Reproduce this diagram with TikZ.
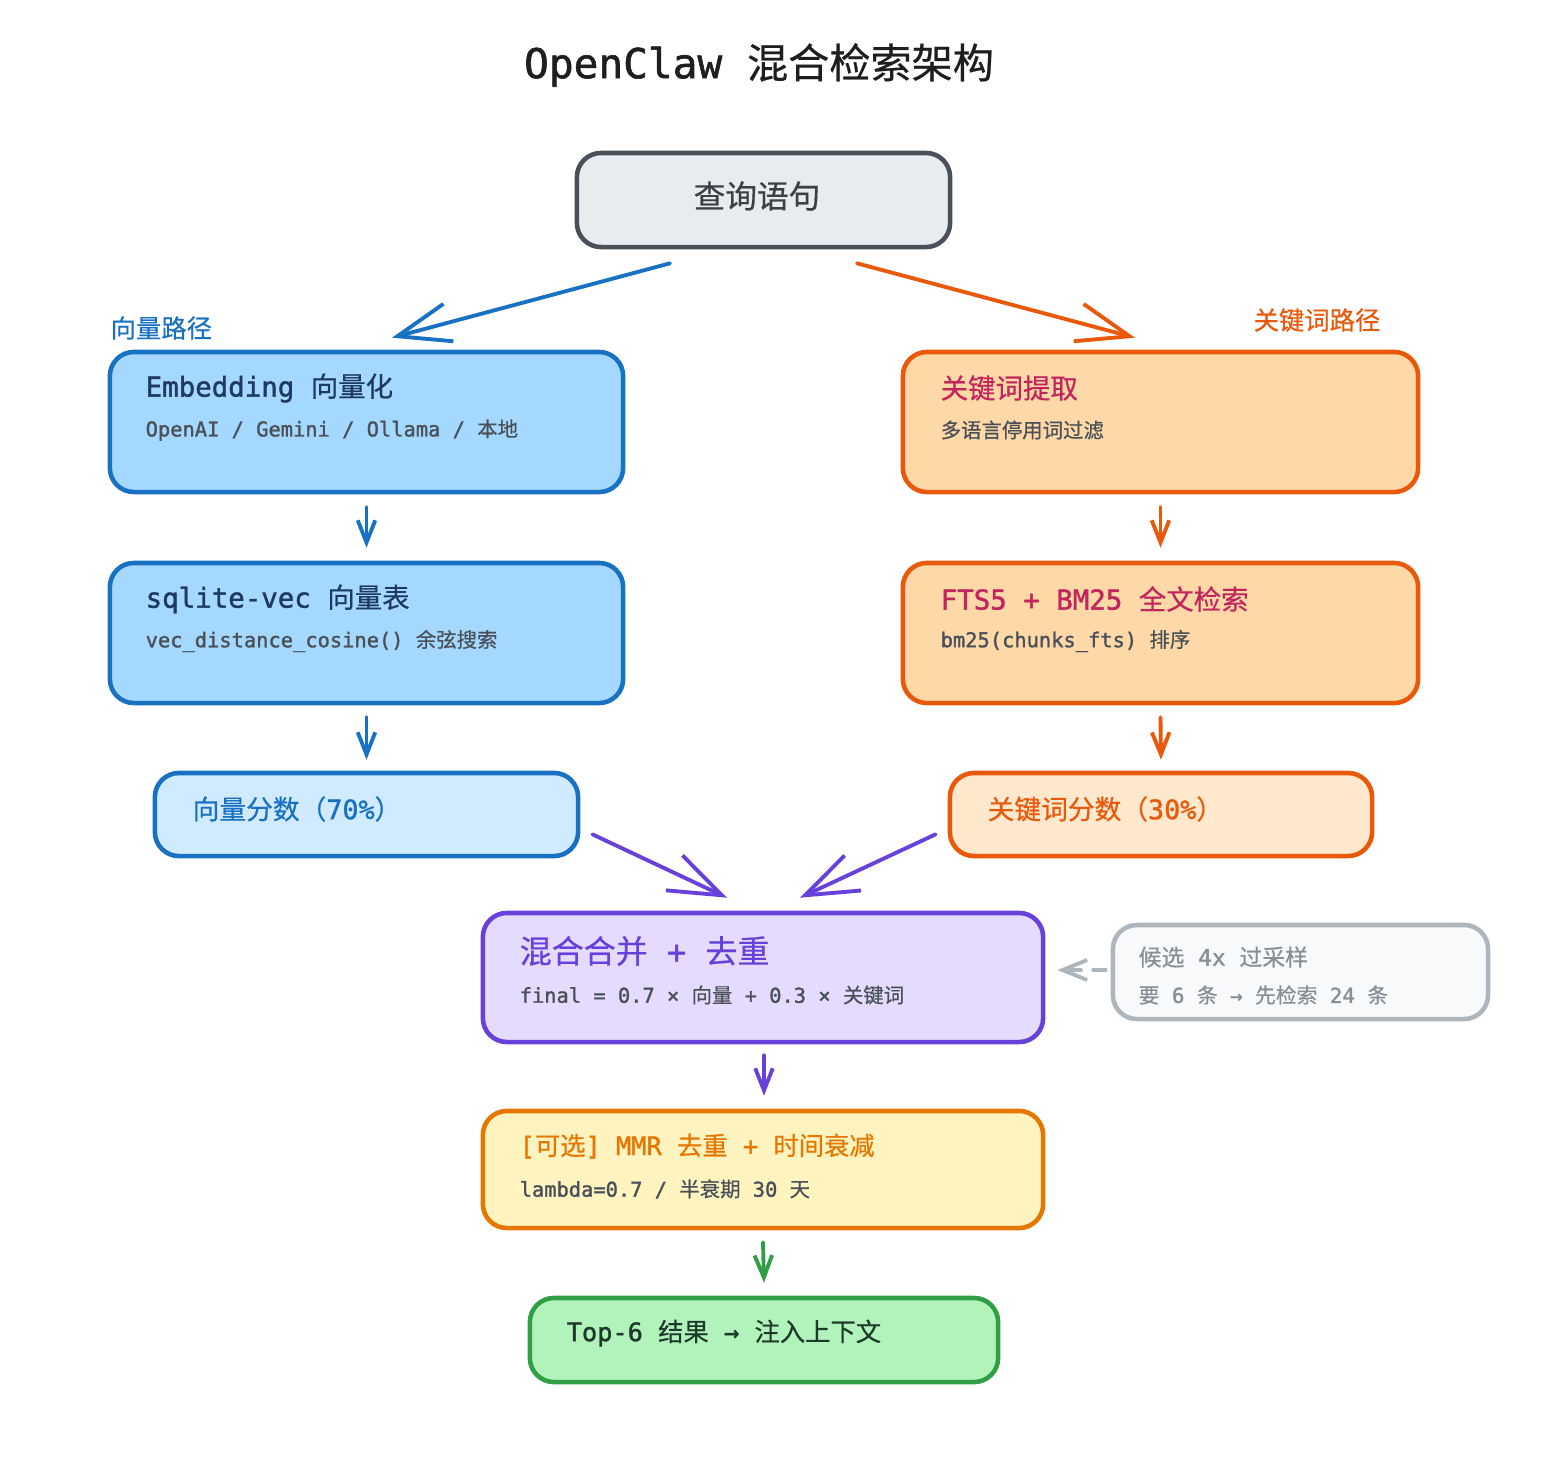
\documentclass[tikz,border=0pt]{standalone}
\usepackage{fontspec}
\setmainfont{DejaVu Sans Mono}[FakeBold=1.4]
\newfontfamily\cjk{Noto Sans CJK SC}[FakeBold=0.5]
\usetikzlibrary{arrows.meta}
\usetikzlibrary{calc}

\definecolor{inkdark}{HTML}{1E1E1E}
\definecolor{subgray}{HTML}{495057}
\definecolor{qline}{HTML}{495057}
\definecolor{qfill}{HTML}{E9ECEF}
\definecolor{vecline}{HTML}{1971C2}
\definecolor{vecfill}{HTML}{A5D8FF}
\definecolor{vecpale}{HTML}{D0EBFF}
\definecolor{vecink}{HTML}{1E3A5F}
\definecolor{kwline}{HTML}{E8590C}
\definecolor{kwfill}{HTML}{FFD8A8}
\definecolor{kwpale}{HTML}{FFE8CC}
\definecolor{kwink}{HTML}{C2255C}
\definecolor{mixline}{HTML}{6741D9}
\definecolor{mixfill}{HTML}{E5DBFF}
\definecolor{candline}{HTML}{ADB5BD}
\definecolor{candfill}{HTML}{F8F9FA}
\definecolor{candink}{HTML}{868E96}
\definecolor{mmrline}{HTML}{E67700}
\definecolor{mmrfill}{HTML}{FFF3BF}
\definecolor{outline}{HTML}{2F9E44}
\definecolor{outfill}{HTML}{B2F2BB}
\definecolor{outink}{HTML}{1E3A2B}

\tikzset{
  box/.style={draw, rounded corners=0.24cm, line width=1.3pt, inner sep=0pt},
  txt/.style={anchor=west, inner sep=0pt},
  headfont/.style={font=\fontsize{7.8}{9}\selectfont},
  subfont/.style={font=\fontsize{5.8}{7}\selectfont, text=subgray},
  bigarrow/.style={line width=1.1pt, line cap=round,
    -{Straight Barb[length=15pt, width=11pt, line width=1.1pt]}},
  smallarrow/.style={line width=1.1pt, line cap=round,
    -{Straight Barb[length=6.3pt, width=5pt, line width=1.1pt]}},
}

\begin{document}
\begin{tikzpicture}[x=0.01cm, y=-0.01cm]
\useasboundingbox (0,0) rectangle (1560,1466);

% title
\node[inner sep=0pt, text=inkdark, font=\fontsize{11.7}{13}\selectfont] (title) at (759,65) {OpenClaw {\cjk 混合检索架构}};

% query
\node[box, draw=qline, fill=qfill, minimum width=3.73cm, minimum height=0.94cm] (query) at (763.5,200) {};
\node[inner sep=0pt, text=qline!80!black, font=\fontsize{9}{10}\selectfont] (qtxt) at (757,196) {\cjk 查询语句};

% vector path
\node[txt, text=vecline, font=\fontsize{7.2}{8}\selectfont] (vlabel) at (110,328) {\cjk 向量路径};
\node[box, draw=vecline, fill=vecfill, minimum width=5.13cm, minimum height=1.40cm] (embed) at (366.5,422) {};
\node[txt, headfont, text=vecink] (embed-t) at (145,388) {Embedding {\cjk 向量化}};
\node[txt, subfont] (embed-s) at (145,430) {OpenAI / Gemini / Ollama / {\cjk 本地}};

\node[box, draw=vecline, fill=vecfill, minimum width=5.13cm, minimum height=1.40cm] (sqlite) at (366.5,633) {};
\node[txt, headfont, text=vecink] (sqlite-t) at (145,599) {sqlite-vec {\cjk 向量表}};
\node[txt, subfont] (sqlite-s) at (145,641) {vec\_distance\_cosine() {\cjk 余弦搜索}};

\node[box, draw=vecline, fill=vecpale, minimum width=4.23cm, minimum height=0.83cm] (vscore) at (366.5,814.5) {};
\node[txt, text=vecline, font=\fontsize{7.6}{9}\selectfont] (vscore-t) at (192,809) {{\cjk 向量分数（}70\%{\cjk ）}};

% keyword path
\node[txt, text=kwline, font=\fontsize{7.2}{8}\selectfont] (klabel) at (1253,320) {\cjk 关键词路径};
\node[box, draw=kwline, fill=kwfill, minimum width=5.15cm, minimum height=1.40cm] (kwext) at (1160.5,422) {};
\node[txt, headfont, text=kwink] (kwext-t) at (940,388) {\cjk 关键词提取};
\node[txt, subfont] (kwext-s) at (940,430) {\cjk 多语言停用词过滤};

\node[box, draw=kwline, fill=kwfill, minimum width=5.15cm, minimum height=1.40cm] (fts) at (1160.5,633) {};
\node[txt, headfont, text=kwink] (fts-t) at (940,599) {FTS5 + BM25 {\cjk 全文检索}};
\node[txt, subfont] (fts-s) at (940,641) {bm25(chunks\_fts) {\cjk 排序}};

\node[box, draw=kwline, fill=kwpale, minimum width=4.22cm, minimum height=0.83cm] (kscore) at (1161,814.5) {};
\node[txt, text=kwline, font=\fontsize{7.6}{9}\selectfont] (kscore-t) at (987,809) {{\cjk 关键词分数（}30\%{\cjk ）}};

% merge
\node[box, draw=mixline, fill=mixfill, minimum width=5.60cm, minimum height=1.29cm] (merge) at (763,977.5) {};
\node[txt, text=mixline, font=\fontsize{9.1}{10}\selectfont] (merge-t) at (519,951) {{\cjk 混合合并} + {\cjk 去重}};
\node[txt, subfont] (merge-s) at (519,995) {final = 0.7 × {\cjk 向量} + 0.3 × {\cjk 关键词}};

\node[box, draw=candline, fill=candfill, minimum width=3.75cm, minimum height=0.94cm] (cand) at (1300.5,972) {};
\node[txt, text=candink, font=\fontsize{6.5}{8}\selectfont] (cand-t) at (1138,957) {{\cjk 候选} 4x {\cjk 过采样}};
\node[txt, text=candink, font=\fontsize{5.9}{7}\selectfont] (cand-s) at (1138,995) {{\cjk 要} 6 {\cjk 条} → {\cjk 先检索} 24 {\cjk 条}};

% mmr
\node[box, draw=mmrline, fill=mmrfill, minimum width=5.60cm, minimum height=1.17cm] (mmr) at (763,1169.5) {};
\node[txt, text=mmrline, font=\fontsize{7.2}{8}\selectfont] (mmr-t) at (519,1146) {[{\cjk 可选}] MMR {\cjk 去重} + {\cjk 时间衰减}};
\node[txt, subfont] (mmr-s) at (519,1189) {lambda=0.7 / {\cjk 半衰期} 30 {\cjk 天}};

% result
\node[box, draw=outline, fill=outfill, minimum width=4.68cm, minimum height=0.84cm] (result) at (764,1340) {};
\node[txt, text=outink, font=\fontsize{7.2}{8}\selectfont] (result-t) at (566,1333) {Top-6 {\cjk 结果} → {\cjk 注入上下文}};

% arrows
\draw[bigarrow, vecline] ([shift={(-93.5,14)}]query.south) -- ([shift={(25.5,-12)}]embed.north);
\draw[bigarrow, kwline] ([shift={(93.5,14)}]query.south) -- ([shift={(-25.5,-12)}]kwext.north);
\draw[smallarrow, vecline] ([shift={(0,13)}]embed.south) -- ([shift={(0,-13)}]sqlite.north);
\draw[smallarrow, vecline] ([shift={(0,12)}]sqlite.south) -- ([shift={(0,-11)}]vscore.north);
\draw[smallarrow, kwline] ([shift={(0,13)}]kwext.south) -- ([shift={(0,-13)}]fts.north);
\draw[smallarrow, kwline] ([shift={(0,12)}]fts.south) -- ([shift={(0,-11)}]kscore.north);
\draw[bigarrow, mixline] ([shift={(12,-24)}]vscore.south east) -- ([shift={(-36,-13)}]merge.north);
\draw[bigarrow, mixline] ([shift={(-12,-24)}]kscore.south west) -- ([shift={(37,-13)}]merge.north);
\draw[candline, line width=1.1pt, line cap=round, dash pattern=on 3.5pt off 3.5pt,
  -{Straight Barb[length=7pt, width=5.7pt, line width=1.1pt]}] ([shift={(-5,-2)}]cand.west) -- ([shift={(12,-7.5)}]merge.east);
\draw[smallarrow, mixline] ([shift={(1,11)}]merge.south) -- ([shift={(1,-13)}]mmr.north);
\draw[smallarrow, outline] ([shift={(0,12)}]mmr.south) -- ([shift={(0,-13)}]result.north);
\end{tikzpicture}
\end{document}
